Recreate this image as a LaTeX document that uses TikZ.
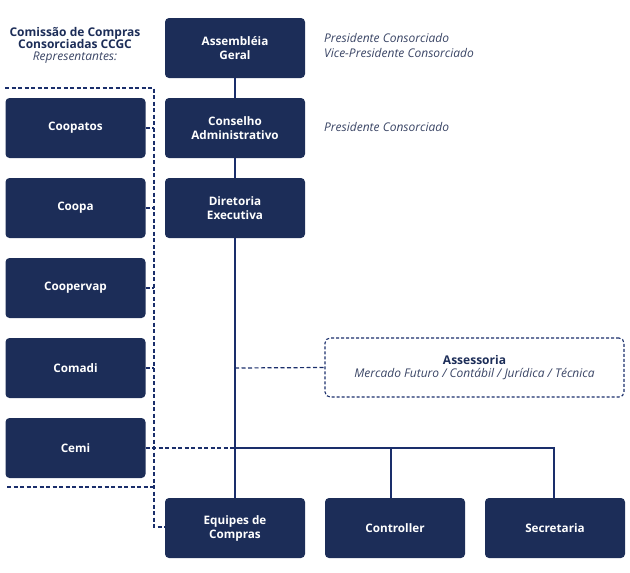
\documentclass[tikz,border=0pt]{standalone}
\usepackage{fontspec}
\setmainfont{Open Sans}
\usetikzlibrary{calc}
\definecolor{boxc}{HTML}{1C2D58}
\definecolor{linec}{HTML}{1A2E6B}
\definecolor{txtc}{HTML}{3A4565}
\tikzset{
  unit/.style={fill=boxc, rounded corners=4pt, minimum width=140pt, minimum height=60pt,
    text=white, font=\fontsize{11.7}{14}\selectfont\bfseries, align=center, inner sep=0pt},
  conn/.style={draw=linec, line width=1.2pt},
  dconn/.style={draw=linec, line width=1.2pt, dash pattern=on 4pt off 2.5pt},
  note/.style={text=txtc, font=\fontsize{12}{15}\selectfont\itshape, align=left, anchor=west, inner sep=0pt},
}
\begin{document}
\begin{tikzpicture}[x=1pt,y=-1pt]
\useasboundingbox (0,0) rectangle (630,573);
% central column
\node[unit] (ag) at (235,48) {Assembléia\\Geral};
\node[unit] (ca) at (235,128) {Conselho\\Administrativo};
\node[unit] (de) at (235,208) {Diretoria\\Executiva};
\node[unit] (eq) at (235,528) {Equipes de\\Compras};
\node[unit] (co) at (395,528) {Controller};
\node[unit] (se) at (555,528) {Secretaria};
% left column
\node[unit] (l1) at (75.5,128) {Coopatos};
\node[unit] (l2) at (75.5,208) {Coopa};
\node[unit] (l3) at (75.5,288) {Coopervap};
\node[unit] (l4) at (75.5,368) {Comadi};
\node[unit] (l5) at (75.5,448) {Cemi};
% assessoria
\node[draw=linec, line width=1.1pt, dash pattern=on 3pt off 2pt, rounded corners=5pt,
  minimum width=299pt, minimum height=59pt, align=center, inner sep=0pt] (as) at (474.5,367.5)
  {{\color{boxc}\fontsize{12}{15}\selectfont\bfseries Assessoria}\\[0.5pt]
   {\color{txtc}\fontsize{12}{15}\selectfont\itshape Mercado Futuro / Contábil / Jurídica / Técnica}};
% notes
\node[note] (n1) at (324,45.5) {Presidente Consorciado\\Vice-Presidente Consorciado};
\node[note] (n2) at (324,127) {Presidente Consorciado};
\node[align=center, inner sep=0pt, text=boxc] (ti) at (75,45)
  {{\fontsize{12}{14.5}\selectfont\bfseries Comissão de Compras}\\
   {\fontsize{12}{14.5}\selectfont\bfseries Consorciadas CCGC}\\
   {\color{txtc}\fontsize{12}{14.5}\selectfont\itshape Representantes:}};
% coordinates
\coordinate (tl) at (5,88);
\coordinate (tr) at (154,88);
\coordinate (bl) at (7,487);
\coordinate (br) at (154,487);
\coordinate (bv) at (154,527);
\coordinate (mx) at (235,448);
\coordinate (cx) at (391,448);
\coordinate (sx) at (554,448);
\coordinate (ax) at (235,368);
% solid main line
\draw[conn] (ag.south) -- (ca.north);
\draw[conn] (ca.south) -- (de.north);
\draw[conn] (de.south) -- (eq.north);
\draw[conn] (mx) -- (sx) -- (se.north -| sx);
\draw[conn] (cx) -- (co.north -| cx);
% dashed
\draw[dconn] (tl) -- (tr) -- (bv) -- (eq.west |- bv);
\draw[dconn] (bl) -- (br);
\foreach \n in {l1,l2,l3,l4} \draw[dconn] (\n.east) -- (\n.east -| tr);
\draw[dconn] (l5.east) -- (mx);
\draw[dconn] (ax) -- (as.west);
\end{tikzpicture}
\end{document}
